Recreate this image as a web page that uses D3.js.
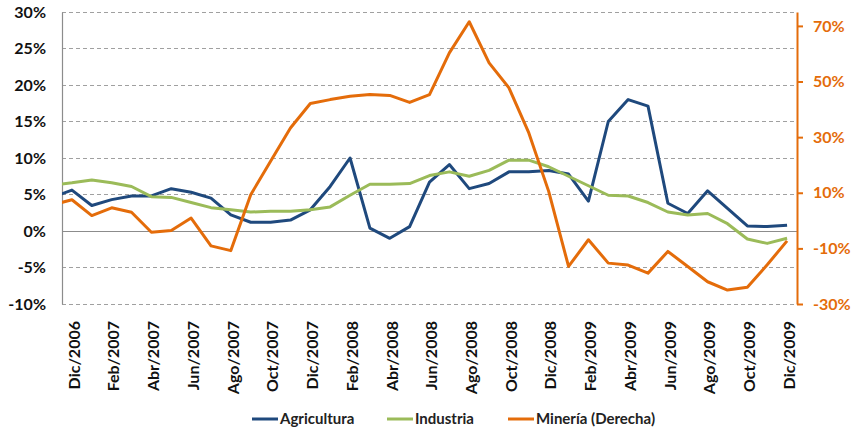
<!DOCTYPE html>
<html lang="es">
<head>
<meta charset="utf-8">
<script src="https://cdn.jsdelivr.net/npm/d3@7"></script>
<style>
  html, body { margin: 0; padding: 0; background: #ffffff; }
  svg { display: block; font-family: Lato, "Open Sans", "Liberation Sans", sans-serif; }
</style>
</head>
<body>
<svg id="chart" width="854" height="431"></svg>
<script>
// Monthly series, Nov/2006 – Dic/2009 (year-on-year % change)
const months = [
  "Nov/2006","Dic/2006",
  "Ene/2007","Feb/2007","Mar/2007","Abr/2007","May/2007","Jun/2007",
  "Jul/2007","Ago/2007","Sep/2007","Oct/2007","Nov/2007","Dic/2007",
  "Ene/2008","Feb/2008","Mar/2008","Abr/2008","May/2008","Jun/2008",
  "Jul/2008","Ago/2008","Sep/2008","Oct/2008","Nov/2008","Dic/2008",
  "Ene/2009","Feb/2009","Mar/2009","Abr/2009","May/2009","Jun/2009",
  "Jul/2009","Ago/2009","Sep/2009","Oct/2009","Nov/2009","Dic/2009"
];
const agricultura = [4.6, 5.6, 3.5, 4.3, 4.8, 4.8, 5.8, 5.3, 4.5, 2.2, 1.2, 1.2, 1.5, 2.9,
  6.1, 10.0, 0.4, -1.0, 0.6, 6.7, 9.1, 5.8, 6.5, 8.1, 8.1, 8.3, 7.8, 4.1, 15.0, 18.0,
  17.1, 3.8, 2.4, 5.5, 3.1, 0.7, 0.6, 0.8];
const industria = [6.3, 6.6, 7.0, 6.6, 6.1, 4.7, 4.6, 3.9, 3.2, 2.9, 2.6, 2.7, 2.7, 2.9,
  3.3, 4.9, 6.4, 6.4, 6.5, 7.6, 8.1, 7.5, 8.3, 9.7, 9.7, 8.8, 7.5, 6.2, 4.9, 4.8,
  3.9, 2.6, 2.2, 2.4, 1.0, -1.1, -1.7, -1.0];
const mineria = [5.6, 7.5, 1.8, 4.6, 3.0, -4.2, -3.6, 0.9, -9.1, -10.8, 9.3, 21.3, 33.3, 42.1,
  43.5, 44.7, 45.3, 45.0, 42.5, 45.3, 60.3, 71.5, 56.7, 47.7, 31.5, 10.5, -16.5, -6.9, -15.3, -16.0,
  -18.9, -11.1, -16.5, -22.0, -25.0, -24.0, -15.9, -7.3];

// Axis ticks and labels
const leftTicks = [-10, -5, 0, 5, 10, 15, 20, 25, 30];
const rightTicks = [-30, -10, 10, 30, 50, 70];
const xLabels = ["Dic/2006","Feb/2007","Abr/2007","Jun/2007","Ago/2007","Oct/2007","Dic/2007",
  "Feb/2008","Abr/2008","Jun/2008","Ago/2008","Oct/2008","Dic/2008","Feb/2009","Abr/2009",
  "Jun/2009","Ago/2009","Oct/2009","Dic/2009"];

const seriesInfo = [
  { name: "Agricultura", values: agricultura, axis: "left", color: "#1F497D" },
  { name: "Industria", values: industria, axis: "left", color: "#9BBB59" },
  { name: "Minería (Derecha)", values: mineria, axis: "right", color: "#E46C0A" }
];

const svg = d3.select("#chart");
const plot = { left: 62, right: 797, top: 12, bottom: 304 };

const x = d3.scaleLinear().domain([0.5, months.length - 0.5]).range([plot.left, plot.right]);
const yL = d3.scaleLinear().domain([-10, 30]).range([plot.bottom, plot.top]);
const yR = d3.scaleLinear().domain([-30, 75]).range([plot.bottom, plot.top]);

svg.append("defs").append("clipPath").attr("id", "plotClip")
  .append("rect")
  .attr("x", plot.left).attr("y", plot.top - 5)
  .attr("width", plot.right - plot.left).attr("height", plot.bottom - plot.top + 10);

// Horizontal gridlines (dashed), zero line solid
svg.append("g").selectAll("line")
  .data(leftTicks)
  .join("line")
  .attr("x1", plot.left).attr("x2", plot.right)
  .attr("y1", d => yL(d)).attr("y2", d => yL(d))
  .attr("stroke", d => d === 0 ? "#8c8c8c" : "#a0a0a0")
  .attr("stroke-width", 1)
  .attr("stroke-dasharray", d => d === 0 ? null : "4,3")
  .attr("shape-rendering", "crispEdges");

// Left axis
const leftAxis = svg.append("g")
  .attr("transform", `translate(${plot.left},0)`)
  .call(d3.axisLeft(yL).tickValues(leftTicks).tickSize(0).tickPadding(16).tickFormat(d => d + "%"));
leftAxis.select(".domain").attr("stroke", "#8c8c8c").attr("stroke-width", 1.2);
leftAxis.selectAll("text")
  .attr("fill", "#111").attr("font-size", 16).attr("font-weight", 700)
  .attr("font-family", "Lato, 'Open Sans', sans-serif");

// Right axis (Minería)
const rightAxis = svg.append("g")
  .attr("transform", `translate(${plot.right},0)`)
  .call(d3.axisRight(yR).tickValues(rightTicks).tickSizeInner(6).tickSizeOuter(0).tickPadding(10).tickFormat(d => d + "%"));
rightAxis.select(".domain").attr("stroke", "#E46C0A").attr("stroke-width", 2);
rightAxis.selectAll(".tick line").attr("stroke", "#E46C0A").attr("stroke-width", 2);
rightAxis.selectAll("text")
  .attr("fill", "#E46C0A").attr("font-size", 16).attr("font-weight", 700)
  .attr("font-family", "Lato, 'Open Sans', sans-serif");

// Category labels every two months, rotated
const xl = svg.append("g");
xl.selectAll("text")
  .data(xLabels)
  .join("text")
  .attr("transform", d => `translate(${x(months.indexOf(d)) + 2},321) rotate(-90)`)
  .attr("dy", "0.36em")
  .attr("text-anchor", "end")
  .attr("font-size", 16).attr("font-weight", 700)
  .attr("fill", "#111")
  .text(d => d);

// Series lines
const lines = svg.append("g").attr("clip-path", "url(#plotClip)");
seriesInfo.forEach(s => {
  const yScale = s.axis === "left" ? yL : yR;
  const gen = d3.line().x((d, i) => x(i)).y(d => yScale(d));
  lines.append("path")
    .datum(s.values)
    .attr("d", gen)
    .attr("fill", "none")
    .attr("stroke", s.color)
    .attr("stroke-width", 3)
    .attr("stroke-linejoin", "round");
});

// Legend
const legendX = [252, 387, 508];
const legend = svg.append("g").attr("transform", "translate(0,419)");
const items = legend.selectAll("g")
  .data(seriesInfo)
  .join("g")
  .attr("transform", (d, i) => `translate(${legendX[i]},0)`);
items.append("line")
  .attr("x1", 0).attr("x2", 26).attr("y1", 0).attr("y2", 0)
  .attr("stroke", d => d.color).attr("stroke-width", 3);
items.append("text")
  .attr("x", 28).attr("dy", "0.35em")
  .attr("font-size", 15).attr("font-weight", 700)
  .attr("fill", "#222")
  .text(d => d.name);
</script>
</body>
</html>
